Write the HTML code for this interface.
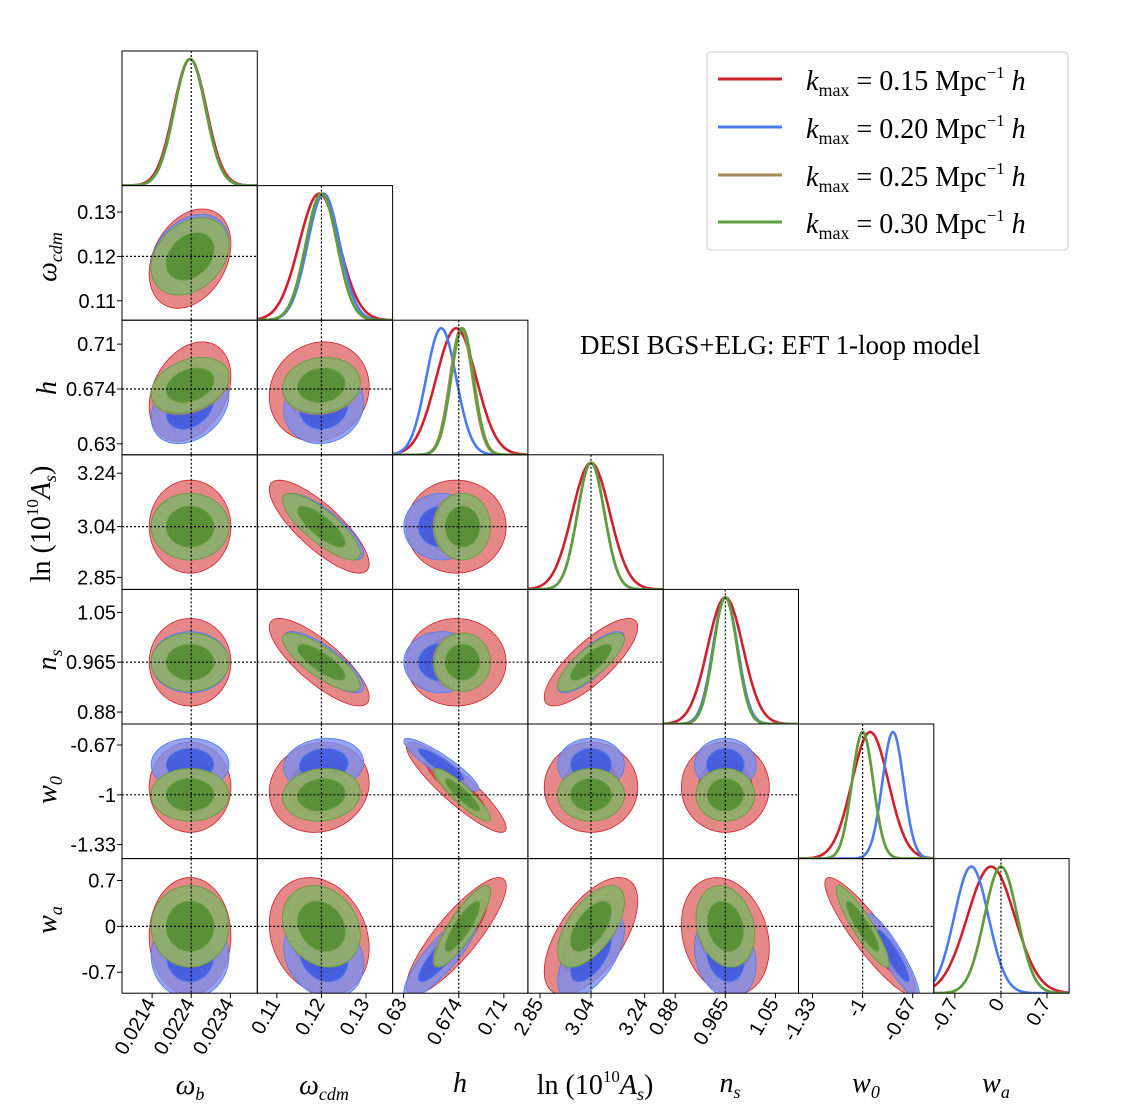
<!DOCTYPE html>
<html><head><meta charset="utf-8">
<style>
body{margin:0;background:#fff;}
#fig{display:block;font-family:"Liberation Sans",sans-serif;}
#over{font-family:"Liberation Serif",serif;}
</style></head>
<body>
<svg id="fig" width="1122" height="1116" xmlns="http://www.w3.org/2000/svg"></svg>
<script>
// ---------- data ----------
const paramNames = ["ωb","ωcdm","h","lnAs","ns","w0","wa"];
const truths = [0.0224, 0.12, 0.674, 3.04, 0.965, -1, 0];
const rangeLo = [0.02063, 0.10562, 0.6212, 2.805, 0.8596, -1.4224, -1.02];
const rangeHi = [0.02409, 0.13596, 0.7292, 3.309, 1.0892, -0.531, 1.035];
const tickVals = [[0.0214,0.0224,0.0234],[0.11,0.12,0.13],[0.63,0.674,0.71],[2.85,3.04,3.24],[0.88,0.965,1.05],[-1.33,-1,-0.67],[-0.7,0,0.7]];
const tickLabels = [["0.0214","0.0224","0.0234"],["0.11","0.12","0.13"],["0.63","0.674","0.71"],["2.85","3.04","3.24"],["0.88","0.965","1.05"],["-1.33","-1","-0.67"],["-0.7","0","0.7"]];
const seriesNames = ["kmax-0.15","kmax-0.20","kmax-0.25","kmax-0.30"];
const meansRed   = [0.02237, 0.1195, 0.672, 3.04, 0.965, -0.95, -0.15];
const meansBlue  = [0.02237, 0.1205, 0.660, 3.04, 0.965, -0.80, -0.45];
const meansBrown = [0.02237, 0.1200, 0.676, 3.04, 0.965, -1.00, 0.00];
const meansGreen = [0.02237, 0.1200, 0.677, 3.04, 0.965, -1.00, 0.00];
const sigRed   = [0.00042, 0.0045, 0.016, 0.07, 0.030, 0.12, 0.36];
const sigBlue  = [0.00040, 0.0036, 0.012, 0.05, 0.021, 0.07, 0.26];
const sigBrown = [0.00040, 0.0035, 0.009, 0.05, 0.020, 0.07, 0.25];
const sigGreen = [0.00040, 0.0035, 0.009, 0.05, 0.020, 0.07, 0.25];
const corr = [
 [1, 0.3, 0.3, 0, 0, 0, 0],
 [0.3, 1, 0.1, -0.8, -0.8, 0.1, -0.2],
 [0.3, 0.1, 1, 0, 0, -0.9, 0.85],
 [0, -0.8, 0, 1, 0.8, 0, 0.6],
 [0, -0.8, 0, 0.8, 1, 0, -0.2],
 [0, 0.1, -0.9, 0, 0, 1, -0.9],
 [0, -0.2, 0.85, 0.6, -0.2, -0.9, 1]];
const lineColors = ["#d0202c","#4a7cf0","#a88a5a","#5e9e3c"];
const fillOuter = ["#e06a6a","#7a8ef0","#b4a070","#8ab06a"];
const fillInner = ["#d04040","#3050e0","#8a7040","#4a8a28"];
const means = [meansRed, meansBlue, meansBrown, meansGreen];
const sigs = [sigRed, sigBlue, sigBrown, sigGreen];

// ---------- layout ----------
const X0 = 122, Y0 = 51, SX = 135.3, SY = 134.6, N = 7;
const NS = "http://www.w3.org/2000/svg";
const svg = document.getElementById("fig");
function mk(tag, attrs, parent){ const e=document.createElementNS(NS,tag); for(const k in attrs) e.setAttribute(k,attrs[k]); (parent||svg).appendChild(e); return e; }
function xScale(p, v, col){ return X0 + col*SX + (v-rangeLo[p])/(rangeHi[p]-rangeLo[p])*SX; }
function yScale(p, v, row){ return Y0 + (row+1)*SY - (v-rangeLo[p])/(rangeHi[p]-rangeLo[p])*SY; }

const defs = mk("defs",{});
for(let r=0;r<N;r++){
  for(let c=0;c<=r;c++){
    const px = X0+c*SX, py = Y0+r*SY;
    const cp = mk("clipPath",{id:"cp"+r+"_"+c},defs);
    mk("rect",{x:px,y:py,width:SX,height:SY},cp);
    const g = mk("g",{"clip-path":"url(#cp"+r+"_"+c+")"});
    
    
    if(r===c){
      for(let s=0;s<4;s++){
        let d="";
        for(let i=0;i<=120;i++){
          const v = rangeLo[c]+(rangeHi[c]-rangeLo[c])*i/120;
          const z = (v-means[s][c])/sigs[s][c];
          const y = py+SY - (SY-8)*Math.exp(-0.5*z*z);
          d += (i?"L":"M")+xScale(c,v,c).toFixed(1)+","+y.toFixed(1);
        }
        const l = mk("path",{d:d,fill:"none",stroke:lineColors[s],"stroke-width":2.6},g);
        
        
      }
      mk("line",{x1:xScale(c,truths[c],c),x2:xScale(c,truths[c],c),y1:py,y2:py+SY,stroke:"#000","stroke-width":1.2,"stroke-dasharray":"2,2"},g);
    } else {
      const rho = corr[c][r];
      for(let s=0;s<4;s++){
        [2.49,1.52].forEach((k,ki)=>{
          let d="";
          for(let i=0;i<=72;i++){
            const t=i/72*2*Math.PI;
            const vx = means[s][c]+sigs[s][c]*k*Math.cos(t);
            const vy = means[s][r]+sigs[s][r]*k*(rho*Math.cos(t)+Math.sqrt(1-rho*rho)*Math.sin(t));
            d += (i?"L":"M")+xScale(c,vx,c).toFixed(1)+","+yScale(r,vy,r).toFixed(1);
          }
          const e = mk("path",{d:d+"Z",fill:ki?fillInner[s]:fillOuter[s],"fill-opacity":ki?0.75:0.8,stroke:lineColors[s],"stroke-width":0.8},g);
          
          
        });
      }
      mk("line",{x1:xScale(c,truths[c],c),x2:xScale(c,truths[c],c),y1:py,y2:py+SY,stroke:"#000","stroke-width":1.2,"stroke-dasharray":"2,2"},g);
      mk("line",{x1:px,x2:px+SX,y1:yScale(r,truths[r],r),y2:yScale(r,truths[r],r),stroke:"#000","stroke-width":1.2,"stroke-dasharray":"2,2"},g);
    }
    mk("rect",{x:px,y:py,width:SX,height:SY,fill:"none",stroke:"#000","stroke-width":1});
    if(c===0 && r>0){
      tickVals[r].forEach((v,i)=>{
        const y=yScale(r,v,r);
        mk("line",{x1:px-5,x2:px,y1:y,y2:y,stroke:"#000"});
        const t=mk("text",{x:px-6,y:y+7,"text-anchor":"end","font-size":20});
        t.textContent=tickLabels[r][i];
        
        
      });
    }
    if(r===N-1){
      tickVals[c].forEach((v,i)=>{
        const x=xScale(c,v,c), y=py+SY;
        mk("line",{x1:x,x2:x,y1:y,y2:y+5,stroke:"#000"});
        const t=mk("text",{x:x+4,y:y+10,"text-anchor":"end","font-size":20,transform:"rotate(-60 "+(x+4)+" "+(y+10)+")"});
        t.textContent=tickLabels[c][i];
        
        
      });
    }
  }
}
</script>
<svg id="over" width="1122" height="1116" style="position:absolute;left:0;top:0" xmlns="http://www.w3.org/2000/svg" font-size="28">
  <g font-style="italic">
    <text x="190" y="1094" text-anchor="middle">ω<tspan font-size="18" dy="6">b</tspan></text>
    <text x="324" y="1094" text-anchor="middle">ω<tspan font-size="18" dy="6">cdm</tspan></text>
    <text x="460" y="1092" text-anchor="middle">h</text>
    <text x="595" y="1094" text-anchor="middle" font-style="normal">ln (10<tspan font-size="17" dy="-12">10</tspan><tspan dy="12" font-style="italic">A</tspan><tspan font-size="18" dy="6" font-style="italic">s</tspan><tspan dy="-6">)</tspan></text>
    <text x="730" y="1092" text-anchor="middle">n<tspan font-size="18" dy="6">s</tspan></text>
    <text x="866" y="1092" text-anchor="middle">w<tspan font-size="18" dy="6">0</tspan></text>
    <text x="996" y="1092" text-anchor="middle">w<tspan font-size="18" dy="6">a</tspan></text>
  </g>
  <g font-style="italic">
    <text transform="translate(56 257) rotate(-90)" text-anchor="middle">ω<tspan font-size="18" dy="6">cdm</tspan></text>
    <text transform="translate(56 388) rotate(-90)" text-anchor="middle">h</text>
    <text transform="translate(50 524) rotate(-90)" text-anchor="middle" font-style="normal">ln (10<tspan font-size="17" dy="-12">10</tspan><tspan dy="12" font-style="italic">A</tspan><tspan font-size="18" dy="6" font-style="italic">s</tspan><tspan dy="-6">)</tspan></text>
    <text transform="translate(56 660) rotate(-90)" text-anchor="middle">n<tspan font-size="18" dy="6">s</tspan></text>
    <text transform="translate(56 790) rotate(-90)" text-anchor="middle">w<tspan font-size="18" dy="6">0</tspan></text>
    <text transform="translate(56 920) rotate(-90)" text-anchor="middle">w<tspan font-size="18" dy="6">a</tspan></text>
  </g>
  <text x="580" y="354" font-size="27">DESI BGS+ELG: EFT 1-loop model</text>
  <g>
    <rect x="707" y="52" width="361" height="198" rx="4" fill="#fff" stroke="#ccc"/>
    <g><line x1="718" x2="782" y1="79" y2="79" stroke="#d0202c" stroke-width="3"/><text x="806" y="90"><tspan font-style="italic">k</tspan><tspan font-size="18" dy="6">max</tspan><tspan dy="-6"> = 0.15 Mpc</tspan><tspan font-size="17" dy="-12">−1</tspan><tspan dy="12" font-style="italic"> h</tspan></text></g>
    <g><line x1="718" x2="782" y1="127" y2="127" stroke="#4a7cf0" stroke-width="3"/><text x="806" y="138"><tspan font-style="italic">k</tspan><tspan font-size="18" dy="6">max</tspan><tspan dy="-6"> = 0.20 Mpc</tspan><tspan font-size="17" dy="-12">−1</tspan><tspan dy="12" font-style="italic"> h</tspan></text></g>
    <g><line x1="718" x2="782" y1="175" y2="175" stroke="#a88a5a" stroke-width="3"/><text x="806" y="186"><tspan font-style="italic">k</tspan><tspan font-size="18" dy="6">max</tspan><tspan dy="-6"> = 0.25 Mpc</tspan><tspan font-size="17" dy="-12">−1</tspan><tspan dy="12" font-style="italic"> h</tspan></text></g>
    <g><line x1="718" x2="782" y1="222" y2="222" stroke="#5e9e3c" stroke-width="3"/><text x="806" y="233"><tspan font-style="italic">k</tspan><tspan font-size="18" dy="6">max</tspan><tspan dy="-6"> = 0.30 Mpc</tspan><tspan font-size="17" dy="-12">−1</tspan><tspan dy="12" font-style="italic"> h</tspan></text></g>
  </g>
</svg>
</body></html>
